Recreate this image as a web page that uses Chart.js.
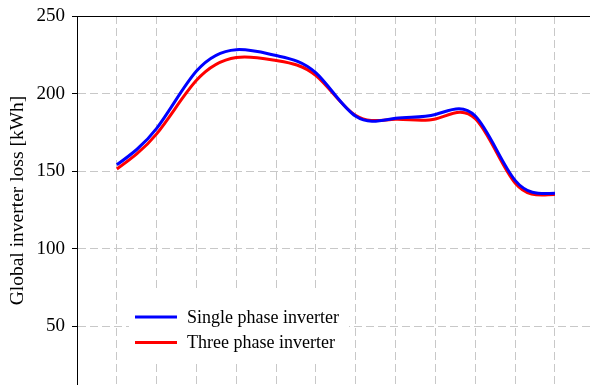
<!DOCTYPE html>
<html>
<head>
<meta charset="utf-8">
<script src="https://cdn.jsdelivr.net/npm/chart.js@4.4.1/dist/chart.umd.min.js"></script>
<style>
  html, body { margin: 0; padding: 0; background: #ffffff; }
  #wrap { width: 590px; height: 385px; }
</style>
</head>
<body>
<div id="wrap"><canvas id="chart"></canvas></div>
<script>
// Twelve periods along the x axis (index 0..11)
const periods = [0, 1, 2, 3, 4, 5, 6, 7, 8, 9, 10, 11];

// Global inverter loss [kWh]
const singlePhase = [154, 177.5, 214.5, 228.3, 224.5, 213.3, 185.3, 184, 186.5, 185.5, 144, 135.6];
const threePhase  = [151.3, 174, 208.5, 223.2, 221.3, 211.5, 185.8, 183.4, 183.6, 183.8, 142.3, 134.8];

const yTicks = [50, 100, 150, 200, 250];
const seriesLabels = ['Single phase inverter', 'Three phase inverter'];
const seriesColors = ['#0000ff', '#ff0000'];

const serif = '"Liberation Serif", "Times New Roman", serif';

// Cubic spline smoothing (free start, flat finish): replaces the Bezier control
// points that Chart.js computes for each point element with spline-derived ones.
const splineSmoothing = {
  id: 'splineSmoothing',
  beforeDatasetDraw(chart, args) {
    const meta = args.meta;
    const line = meta.dataset;
    const pts = meta.data;
    const n = pts.length;
    if (n < 3) return;
    const xs = pts.map(p => p.x), ys = pts.map(p => p.y);
    const h = [];
    for (let i = 0; i < n - 1; i++) h.push(xs[i + 1] - xs[i]);
    const endSlope = 0;
    const a = new Array(n).fill(0), b = new Array(n).fill(0),
          c = new Array(n).fill(0), d = new Array(n).fill(0);
    b[0] = 1;
    for (let i = 1; i < n - 1; i++) {
      a[i] = h[i - 1];
      b[i] = 2 * (h[i - 1] + h[i]);
      c[i] = h[i];
      d[i] = 6 * ((ys[i + 1] - ys[i]) / h[i] - (ys[i] - ys[i - 1]) / h[i - 1]);
    }
    a[n - 1] = h[n - 2];
    b[n - 1] = 2 * h[n - 2];
    d[n - 1] = 6 * (endSlope - (ys[n - 1] - ys[n - 2]) / h[n - 2]);
    for (let i = 1; i < n; i++) {
      const w = a[i] / b[i - 1];
      b[i] -= w * c[i - 1];
      d[i] -= w * d[i - 1];
    }
    const M = new Array(n);
    M[n - 1] = d[n - 1] / b[n - 1];
    for (let i = n - 2; i >= 0; i--) M[i] = (d[i] - c[i] * M[i + 1]) / b[i];
    const slope = new Array(n);
    for (let i = 0; i < n - 1; i++) {
      slope[i] = (ys[i + 1] - ys[i]) / h[i] - h[i] * (2 * M[i] + M[i + 1]) / 6;
    }
    slope[n - 1] = endSlope;
    for (let i = 0; i < n; i++) {
      const hl = i > 0 ? h[i - 1] / 3 : 0;
      const hr = i < n - 1 ? h[i] / 3 : 0;
      pts[i].cp1x = xs[i] - hl;
      pts[i].cp1y = ys[i] - slope[i] * hl;
      pts[i].cp2x = xs[i] + hr;
      pts[i].cp2y = ys[i] + slope[i] * hr;
    }
    line._pointsUpdated = true;
  }
};

// Legend drawn inside the plot area on a white box, plus the solid top frame line
const framePlugin = {
  id: 'frameAndLegend',
  afterDatasetsDraw(chart) {
    const { ctx, chartArea } = chart;
    ctx.save();
    ctx.strokeStyle = '#000000';
    ctx.lineWidth = 1;
    ctx.beginPath();
    ctx.moveTo(chartArea.left, chartArea.top + 0.5);
    ctx.lineTo(chartArea.right, chartArea.top + 0.5);
    ctx.stroke();

    const bx = chartArea.left + 52, by = chartArea.top + 276;
    ctx.fillStyle = '#ffffff';
    ctx.fillRect(bx, by, 220, 70);
    ctx.font = '18px ' + serif;
    ctx.textBaseline = 'middle';
    chart.data.datasets.forEach((ds, i) => {
      const y = by + 25 + i * 25.6;
      ctx.strokeStyle = ds.borderColor;
      ctx.lineWidth = 3;
      ctx.beginPath();
      ctx.moveTo(bx + 6, y);
      ctx.lineTo(bx + 48, y);
      ctx.stroke();
      ctx.fillStyle = '#000000';
      ctx.fillText(ds.label, bx + 58, y + 1);
    });
    ctx.restore();
  }
};

new Chart(document.getElementById('chart'), {
  type: 'line',
  data: {
    datasets: [
      {
        label: seriesLabels[0],
        data: periods.map((p, i) => ({ x: p, y: singlePhase[i] })),
        borderColor: seriesColors[0],
        borderWidth: 3,
        pointRadius: 0,
        tension: 0.4,
        fill: false
      },
      {
        label: seriesLabels[1],
        data: periods.map((p, i) => ({ x: p, y: threePhase[i] })),
        borderColor: seriesColors[1],
        borderWidth: 3,
        pointRadius: 0,
        tension: 0.4,
        fill: false
      }
    ]
  },
  options: {
    responsive: true,
    maintainAspectRatio: false,
    animation: false,
    layout: { padding: { top: 16, right: 0, bottom: 0, left: 0 } },
    plugins: {
      legend: { display: false },
      tooltip: { enabled: false }
    },
    scales: {
      x: {
        type: 'linear',
        min: -1,
        max: 11.88,
        afterBuildTicks(axis) {
          axis.ticks = periods.map(v => ({ value: v }));
        },
        afterFit(axis) { axis.height = 0; axis.paddingLeft = 0; axis.paddingRight = 0; },
        ticks: { display: false },
        border: { display: false, dash: [8, 4] },
        grid: { color: '#c8c8c8', lineWidth: 1, drawTicks: false }
      },
      y: {
        min: 12,
        max: 250,
        afterBuildTicks(axis) {
          axis.ticks = yTicks.map(v => ({ value: v }));
        },
        afterFit(axis) { axis.width = 77; axis.paddingTop = 0; axis.paddingBottom = 0; },
        ticks: {
          color: '#000000',
          font: { family: serif, size: 19 },
          padding: 7
        },
        title: {
          display: true,
          text: 'Global inverter loss [kWh]',
          color: '#000000',
          font: { family: serif, size: 19.5 },
          padding: { top: 6, bottom: 0 }
        },
        border: { display: true, color: '#000000', width: 1, dash: [8, 4] },
        grid: {
          color: '#c8c8c8',
          lineWidth: 1,
          drawTicks: true,
          tickLength: 5,
          tickColor: '#000000',
          tickBorderDash: []
        }
      }
    }
  },
  plugins: [splineSmoothing, framePlugin]
});
</script>
</body>
</html>
